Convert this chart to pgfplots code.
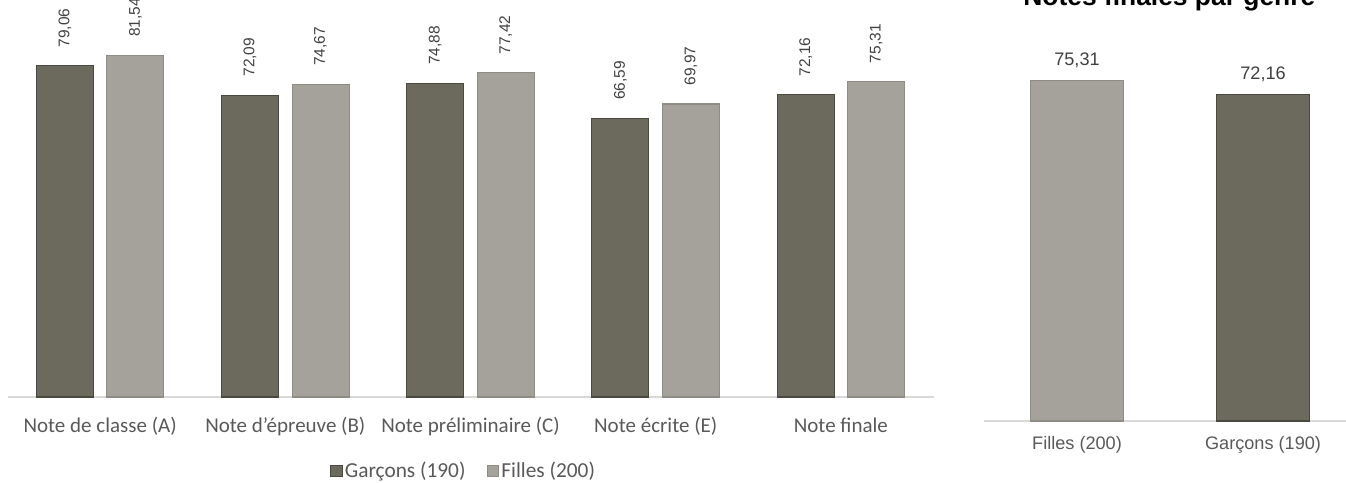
\documentclass[border=0pt]{standalone}
\usepackage{fontspec}
\setmainfont{Carlito}
\newfontfamily\arial{Liberation Sans}
\usepackage{pgfplots}
\pgfplotsset{compat=1.18}
\definecolor{dark}{HTML}{6B6A5C}
\definecolor{darkedge}{HTML}{4A493F}
\definecolor{light}{HTML}{A4A29A}
\definecolor{lightedge}{HTML}{8E8C84}
\definecolor{axisgray}{HTML}{D9D9D9}
\definecolor{labelgray}{HTML}{595959}
\definecolor{valgray}{HTML}{404040}
\begin{document}
\begin{tikzpicture}
\useasboundingbox (0,0) rectangle (1009.5pt,-361.5pt);
\begin{axis}[
  at={(5.625pt,-297.75pt)}, anchor=south west,
  scale only axis, width=694.5pt, height=297.75pt,
  xmin=-0.5, xmax=4.5, ymin=0, ymax=94.8,
  axis y line=none, axis x line*=bottom,
  x axis line style={draw=axisgray, line width=1.1pt, -},
  xtick={0,1,2,3,4},
  xticklabels={Note de classe (A), Note d’épreuve (B), Note préliminaire (C), Note écrite (E), Note finale},
  major tick length=0pt,
  xticklabel style={font=\fontsize{15.75}{18}\selectfont, text=labelgray, anchor=base, yshift=-26.5pt},
  ybar=10.125pt, bar width=42.75pt,
  clip=false,
  nodes near coords,
  every node near coord/.append style={rotate=90, anchor=west, font=\arial\fontsize{11.6}{13}\selectfont, text=valgray, inner xsep=13.5pt},
  /pgf/number format/use comma, /pgf/number format/fixed, /pgf/number format/fixed zerofill, /pgf/number format/precision=2, /pgf/number format/assume math mode=true,
  legend style={at={(0.493,-0.186)}, anchor=center, draw=none, legend columns=2, font=\fontsize{16}{19}\selectfont, text=labelgray, /tikz/every even column/.append style={column sep=14pt}},
  legend image code/.code={\draw[#1, line width=0.4pt] (0pt,-4pt) rectangle (8.5pt,4.5pt);},
]
\addplot[fill=dark, draw=darkedge, line width=0.8pt] coordinates {(0,79.06) (1,72.09) (2,74.88) (3,66.59) (4,72.16)};
\addplot[fill=light, draw=lightedge, line width=0.8pt] coordinates {(0,81.54) (1,74.67) (2,77.42) (3,69.97) (4,75.31)};
\legend{Garçons (190), Filles (200)}
\end{axis}
\begin{axis}[
  at={(738pt,-315.75pt)}, anchor=south west,
  scale only axis, width=271.5pt, height=315.75pt,
  xmin=-0.5, xmax=1.446, ymin=0, ymax=93.1,
  axis y line=none, axis x line*=bottom,
  x axis line style={draw=axisgray, line width=1.1pt, -},
  xtick={0,1},
  xticklabels={Filles (200), Garçons (190)},
  major tick length=0pt,
  xticklabel style={font=\arial\fontsize{13.6}{16}\selectfont, text=labelgray, anchor=base, yshift=-21.4pt},
  ybar, bar shift=0pt, bar width=70.1pt,
  clip=false,
  nodes near coords,
  every node near coord/.append style={anchor=base, yshift=11.25pt, inner sep=0pt, font=\arial\fontsize{13.6}{16}\selectfont, text=valgray},
  /pgf/number format/use comma, /pgf/number format/fixed, /pgf/number format/fixed zerofill, /pgf/number format/precision=2, /pgf/number format/assume math mode=true,
]
\addplot[fill=light, draw=lightedge, line width=0.8pt] coordinates {(0,75.31)};
\addplot[fill=dark, draw=darkedge, line width=0.8pt] coordinates {(1,72.16)};
\end{axis}
\node[font=\arial\bfseries\fontsize{19.8}{24}\selectfont, anchor=base] at (877pt,-3.75pt) {Notes finales par genre};
\end{tikzpicture}
\end{document}
